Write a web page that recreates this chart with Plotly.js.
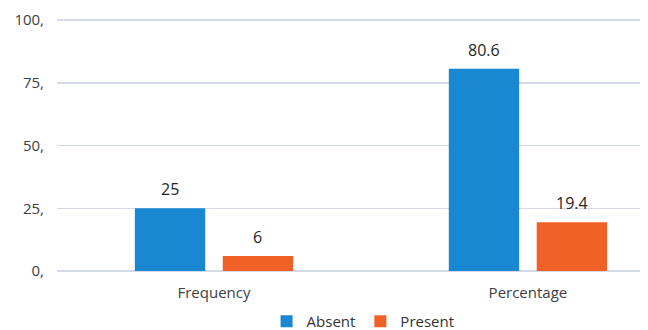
<!DOCTYPE html>
<html>
<head>
<meta charset="utf-8">
<script src="https://cdn.plot.ly/plotly-3.0.1.min.js"></script>
<style>html,body{margin:0;padding:0;background:#fff;}#chart{width:648px;height:330px;}</style>
</head>
<body>
<div id="chart"></div>
<script>
const categories = ["Frequency", "Percentage"];
const absentValues = [25, 80.6];
const presentValues = [6, 19.4];
const absentLabels = ["25", "80.6"];
const presentLabels = ["6", "19.4"];
const yTickValues = [0, 25, 50, 75, 100];
const yTickLabels = ["0,", "25,", "50,", "75,", "100,"];

const fontFam = "Open Sans, Liberation Sans, sans-serif";
const traces = [
  {
    type: "bar", name: "Absent", x: categories, y: absentValues,
    marker: {color: "#1a87d2"}, hoverinfo: "none"
  },
  {
    type: "bar", name: "Present", x: categories, y: presentValues,
    marker: {color: "#ef6126"}, hoverinfo: "none"
  }
];

const annotations = [];
categories.forEach((c, i) => {
  annotations.push({x: c, y: absentValues[i], text: absentLabels[i], xref: "x", yref: "y",
    showarrow: false, yanchor: "bottom", xshift: -44, yshift: 6,
    font: {size: 16, color: "#262626", family: fontFam}});
  annotations.push({x: c, y: presentValues[i], text: presentLabels[i], xref: "x", yref: "y",
    showarrow: false, yanchor: "bottom", xshift: 44, yshift: 6,
    font: {size: 16, color: "#262626", family: fontFam}});
});

const layout = {
  width: 648, height: 330,
  margin: {l: 57, r: 8, t: 18, b: 59, autoexpand: false},
  paper_bgcolor: "#ffffff", plot_bgcolor: "#ffffff",
  font: {family: fontFam, size: 14, color: "#404040"},
  barmode: "group", bargap: 0.44, bargroupgap: 0.2,
  xaxis: {
    type: "category", range: [-0.5, 1.357], fixedrange: true,
    showgrid: false, zeroline: false, showline: false,
    ticks: "", ticklabelstandoff: 11,
    tickfont: {size: 15, color: "#404040", family: fontFam}
  },
  yaxis: {
    range: [0, 100.8], fixedrange: true,
    tickvals: yTickValues, ticktext: yTickLabels,
    showgrid: true, gridcolor: "#d3dae6", gridwidth: 1.5,
    zeroline: true, zerolinecolor: "#d3dae6", zerolinewidth: 1.5,
    showline: false, ticks: "", ticklabelstandoff: 12,
    tickfont: {size: 15, color: "#404040", family: fontFam}
  },
  annotations: annotations,
  showlegend: true,
  legend: {
    orientation: "h", x: 0.525, xanchor: "center", y: -0.2, yanchor: "middle",
    font: {size: 15, color: "#333333", family: fontFam},
    itemwidth: 30, tracegroupgap: 0
  }
};
Plotly.newPlot("chart", traces, layout, {displayModeBar: false, staticPlot: true});
</script>
</body>
</html>
